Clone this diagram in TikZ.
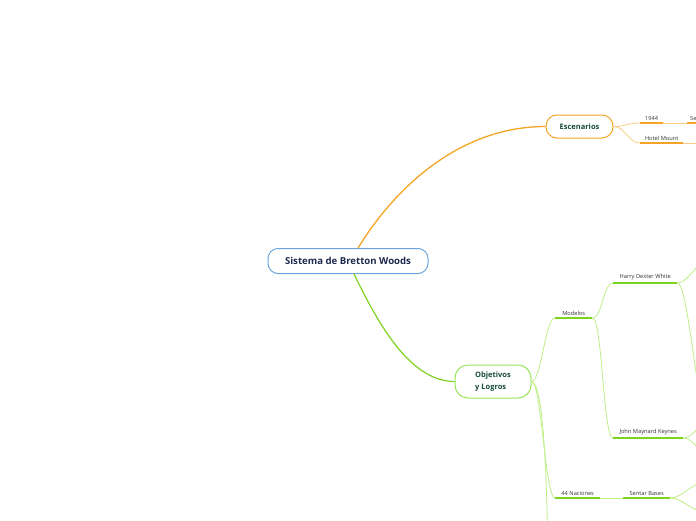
\documentclass[tikz,border=0pt]{standalone}
\usepackage{fontspec}
\setmainfont{Open Sans}

\definecolor{rootblue}{HTML}{6AA6DC}
\definecolor{rootink}{HTML}{1E2B4F}
\definecolor{topicink}{HTML}{164A3A}
\definecolor{orng}{HTML}{F5A524}
\definecolor{orngthin}{HTML}{F9CB84}
\definecolor{lime}{HTML}{7ED321}
\definecolor{limethin}{HTML}{BDEE88}
\definecolor{limeedge}{HTML}{98E556}

\begin{document}
\begin{tikzpicture}[
    x=1pt, y=-1pt,
    root/.style={draw=rootblue, line width=1pt, rounded corners=10pt, fill=white,
      text=rootink, font=\fontsize{9.6}{11}\selectfont\bfseries,
      minimum width=160pt, minimum height=25pt},
    topic/.style={draw=#1, line width=1pt, rounded corners=11pt, fill=white,
      text=topicink, font=\fontsize{7.5}{12}\selectfont\bfseries, align=left},
    leaf/.style={anchor=south west, inner xsep=0pt, inner ysep=2.5pt,
      text=black!80, font=\fontsize{5.7}{6.5}\selectfont, minimum width=#1},
    mainO/.style={orng, line width=1.3pt},
    mainG/.style={lime, line width=1.2pt},
    thinO/.style={orngthin, line width=0.8pt},
    thinG/.style={limethin, line width=0.8pt},
    ulO/.style={orng, line width=1.5pt},
    ulG/.style={lime, line width=1.5pt}
  ]
    \useasboundingbox (0,0) rectangle (696,520);
    \clip (0,0) rectangle (696,520);

    \node[root] (root) at (348,261) {Sistema de Bretton Woods};

    \node[topic=orng, minimum width=67pt, minimum height=23pt] (esc) at (579.5,126.5)
      {Escenarios};
    \node[topic=limeedge, minimum width=76pt, minimum height=33pt, rounded corners=13pt]
      (obj) at (493,381.5) {Objetivos\\y Logros};

    \node[leaf=23pt] (yr) at (640,123) {1944};
    \node[leaf=0pt, inner xsep=3pt] (se) at (687,123) {Se};
    \node[leaf=43pt] (hotel) at (640,143) {Hotel Mount};

    \node[leaf=37pt] (mod) at (555,318) {Modelos};
    \node[leaf=64pt] (hdw) at (613,283) {Harry Dexter White};
    \node[leaf=70pt] (jmk) at (613,438) {John Maynard Keynes};
    \node[leaf=45pt] (nac) at (555,498) {44 Naciones};
    \node[leaf=47pt] (bases) at (623,498) {Sentar Bases};

    \coordinate (hotelEnd) at (710,143);
    \coordinate (hdwUp) at (713,255);
    \coordinate (hdwDown) at (713,450);
    \coordinate (jmkUp) at (709,422);
    \coordinate (jmkDown) at (709,454);
    \coordinate (basesUp) at (705,482);
    \coordinate (basesDown) at (705,512);
    \coordinate (objDown) at (548,600);

    \draw[mainO] ([xshift=10pt]root.north) .. controls +(42,-68) and +(-80,0) .. (esc.west);
    \draw[mainG] ([xshift=6pt]root.south) .. controls +(22,45) and +(-46,0) .. (obj.west);

    \draw[thinO] (esc.east) .. controls +(12,0) and +(-12,0) .. (yr.south west);
    \draw[thinO] (esc.east) .. controls +(12,0) and +(-12,0) .. (hotel.south west);
    \draw[thinO] (yr.south east) -- (se.south west);
    \draw[thinO] (hotel.south east) -- (hotelEnd);
    \draw[ulO] (yr.south west) -- (yr.south east);
    \draw[ulO] (se.south west) -- (se.south east);
    \draw[ulO] (hotel.south west) -- (hotel.south east);

    \draw[thinG] (obj.east) .. controls +(10,0) and +(-10,0) .. (mod.south west);
    \draw[thinG] (obj.east) .. controls +(10,0) and +(-10,0) .. (nac.south west);
    \draw[thinG] (obj.east) .. controls +(12,0) and +(0,-120) .. (objDown);
    \draw[thinG] (mod.south east) .. controls +(10,0) and +(-10,0) .. (hdw.south west);
    \draw[thinG] (mod.south east) .. controls +(10,0) and +(-10,0) .. (jmk.south west);
    \draw[thinG] (hdw.south east) .. controls +(12,0) and +(-12,0) .. (hdwUp);
    \draw[thinG] (hdw.south east) .. controls +(12,0) and +(-12,0) .. (hdwDown);
    \draw[thinG] (jmk.south east) .. controls +(10,0) and +(-10,0) .. (jmkUp);
    \draw[thinG] (jmk.south east) .. controls +(10,0) and +(-10,0) .. (jmkDown);
    \draw[thinG] (nac.south east) -- (bases.south west);
    \draw[thinG] (bases.south east) .. controls +(12,0) and +(-12,0) .. (basesUp);
    \draw[thinG] (bases.south east) .. controls +(12,0) and +(-12,0) .. (basesDown);
    \draw[ulG] (mod.south west) -- (mod.south east);
    \draw[ulG] (hdw.south west) -- (hdw.south east);
    \draw[ulG] (jmk.south west) -- (jmk.south east);
    \draw[ulG] (nac.south west) -- (nac.south east);
    \draw[ulG] (bases.south west) -- (bases.south east);
  \end{tikzpicture}
\end{document}
